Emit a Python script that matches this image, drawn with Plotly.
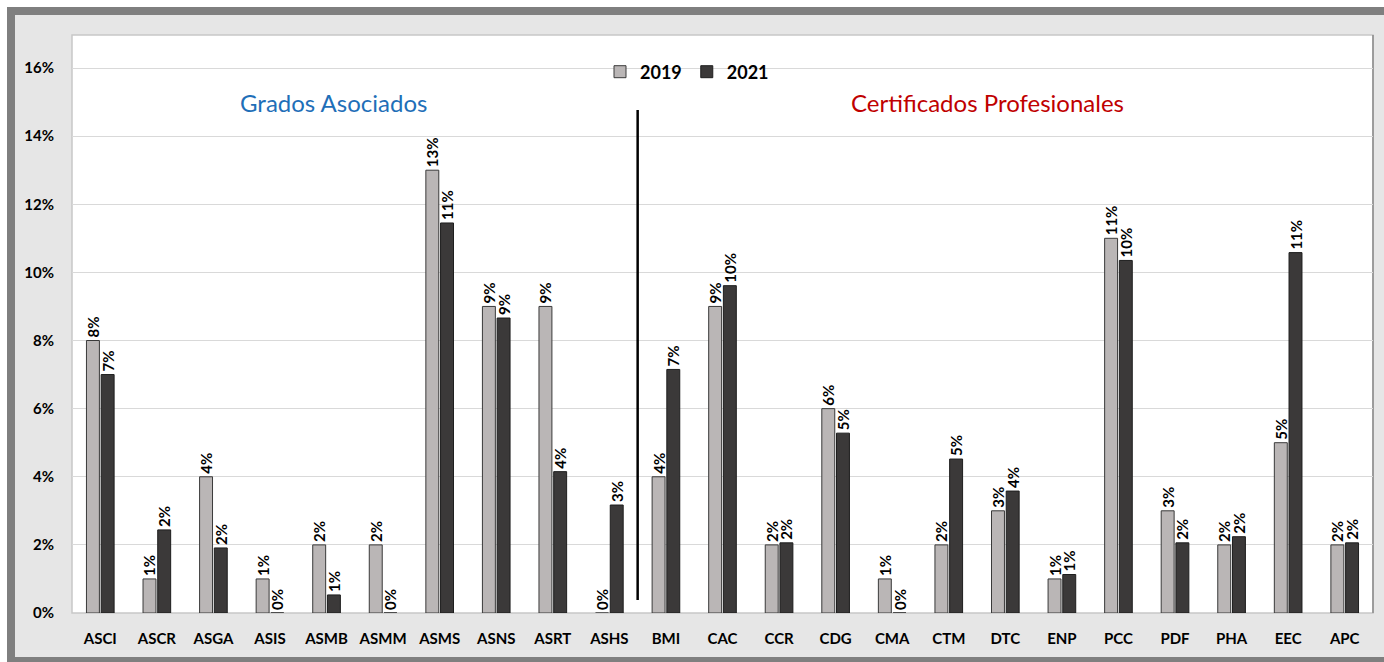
import plotly.graph_objects as go

categories = ["ASCI", "ASCR", "ASGA", "ASIS", "ASMB", "ASMM", "ASMS", "ASNS", "ASRT", "ASHS",
              "BMI", "CAC", "CCR", "CDG", "CMA", "CTM", "DTC", "ENP", "PCC", "PDF", "PHA", "EEC", "APC"]
values_2019 = [8.0, 1.0, 4.0, 1.0, 2.0, 2.0, 13.0, 9.0, 9.0, 0.0,
               4.0, 9.0, 2.0, 6.0, 1.0, 2.0, 3.0, 1.0, 11.0, 3.0, 2.0, 5.0, 2.0]
values_2021 = [7.0, 2.44, 1.91, 0.0, 0.53, 0.0, 11.45, 8.66, 4.15, 3.17,
               7.15, 9.61, 2.06, 5.28, 0.0, 4.52, 3.58, 1.13, 10.35, 2.06, 2.24, 10.58, 2.06]
y_ticks = [0, 2, 4, 6, 8, 10, 12, 14, 16]
y_tick_labels = [f"{t}%" for t in y_ticks]

FONT = "Lato"
W, H = 1384, 662
L, R, T, B = 72, 11, 35, 49
PW, PH = W - L - R, H - T - B


def px_x(p):
    return (p - L) / PW


def px_y(p):
    return (H - B - p) / PH


def lbl(v):
    return f"{int(v + 0.5)}%"


label_font = dict(family=FONT, size=15, color="black", weight="bold")

fig = go.Figure()
fig.add_trace(go.Bar(
    name="2019", x=categories, y=values_2019,
    text=[lbl(v) for v in values_2019], textposition="outside", textangle=-90,
    constraintext="none", textfont=label_font,
    marker=dict(color="#bab6b6", line=dict(color="#3a3a3a", width=1)),
    cliponaxis=False,
))
fig.add_trace(go.Bar(
    name="2021", x=categories, y=values_2021,
    text=[lbl(v) for v in values_2021], textposition="outside", textangle=-90,
    constraintext="none", textfont=label_font,
    marker=dict(color="#3b3939", line=dict(color="#1e1e1e", width=1)),
    cliponaxis=False,
))

shapes = [
    # outer dark frame
    dict(type="rect", xref="paper", yref="paper", layer="below",
         x0=px_x(7), x1=px_x(W + 5), y0=px_y(H + 5), y1=px_y(7),
         fillcolor="#7f7f7f", line=dict(width=0)),
    # light grey chart area
    dict(type="rect", xref="paper", yref="paper", layer="below",
         x0=px_x(15), x1=px_x(W + 5), y0=px_y(657), y1=px_y(15),
         fillcolor="#e6e6e6", line=dict(width=0)),
    # white plot area
    dict(type="rect", xref="paper", yref="paper", layer="below",
         x0=0, x1=1, y0=0, y1=1,
         fillcolor="white", line=dict(color="#c8c8c8", width=1.5)),
    dict(type="line", xref="paper", yref="paper", layer="below",
         x0=1, x1=1, y0=0, y1=1, line=dict(color="#8a8a8a", width=1.5)),
    # divider line
    dict(type="line", xref="x", yref="y", layer="above",
         x0=9.5, x1=9.5, y0=0.38, y1=14.77, line=dict(color="black", width=2.5)),
]

annotations = [
    dict(text="Grados Asociados", xref="paper", yref="paper", x=px_x(333), y=px_y(102),
         showarrow=False, font=dict(family=FONT, size=24, color="#1f6fb8"),
         xanchor="center", yanchor="middle"),
    dict(text="Certificados Profesionales", xref="paper", yref="paper", x=px_x(987), y=px_y(102),
         showarrow=False, font=dict(family=FONT, size=24, color="#c00000"),
         xanchor="center", yanchor="middle"),
]

fig.update_layout(
    width=W, height=H,
    margin=dict(l=L, r=R, t=T, b=B),
    paper_bgcolor="white",
    plot_bgcolor="rgba(0,0,0,0)",
    barmode="group", bargap=0.48, bargroupgap=0.12,
    shapes=shapes, annotations=annotations,
    showlegend=True,
    legend=dict(orientation="h", x=px_x(687), y=px_y(72), xanchor="center", yanchor="middle",
                bgcolor="rgba(0,0,0,0)",
                font=dict(family=FONT, size=18, color="black", weight="bold"),
                itemwidth=30, tracegroupgap=0),
    xaxis=dict(showgrid=False, zeroline=False, showline=False,
               ticks="outside", ticklen=12, tickcolor="rgba(0,0,0,0)",
               tickfont=dict(family=FONT, size=15, color="black", weight="bold")),
    yaxis=dict(range=[0, 16 * PH / 545], tickvals=y_ticks, ticktext=y_tick_labels,
               showgrid=True, gridcolor="#d9d9d9", gridwidth=1, zeroline=False, showline=False,
               ticks="outside", ticklen=14, tickcolor="rgba(0,0,0,0)",
               tickfont=dict(family=FONT, size=15, color="black", weight="bold")),
)

fig.write_html("out.html", config={"displayModeBar": False},
               post_script="document.body.style.margin='0';document.body.style.overflow='hidden';")
